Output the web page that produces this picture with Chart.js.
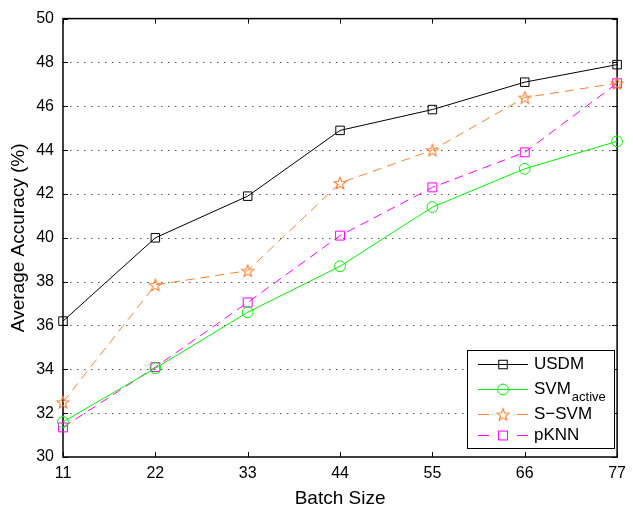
<!DOCTYPE html>
<html>
<head>
<meta charset="utf-8">
<script src="https://cdn.jsdelivr.net/npm/chart.js@4.4.0/dist/chart.umd.min.js"></script>
<style>
  html, body { margin: 0; padding: 0; background: #fff; }
  #wrap { width: 633px; height: 510px; position: relative; }
</style>
</head>
<body>
<div id="wrap"><canvas id="chart"></canvas></div>
<script>
// batch sizes on the x axis
const batchSizes = [11, 22, 33, 44, 55, 66, 77];
const yTicks = [30, 32, 34, 36, 38, 40, 42, 44, 46, 48, 50];

// average accuracy (%) per method
const usdm      = [36.2, 40.0, 41.9, 44.9, 45.85, 47.1, 47.9];
const svmActive = [31.6, 34.05, 36.6, 38.7, 41.4, 43.15, 44.4];
const sSvm      = [32.5, 37.85, 38.5, 42.5, 44.0, 46.4, 47.05];
const pKnn      = [31.35, 34.1, 37.05, 40.1, 42.3, 43.9, 47.05];

const FONT = 'Liberation Sans, Arial, Helvetica, sans-serif';

// open five-point star used as the S-SVM marker
function starImage(color, r) {
    const size = Math.ceil(r * 2 + 3);
    const c = document.createElement('canvas');
    c.width = size;
    c.height = size;
    const g = c.getContext('2d');
    g.strokeStyle = color;
    g.lineWidth = 1.1;
    g.beginPath();
    for (let i = 0; i < 10; i++) {
        const rad = i % 2 ? r * 0.42 : r;
        const a = -Math.PI / 2 + i * Math.PI / 5;
        g.lineTo(size / 2 + rad * Math.cos(a), size / 2 + 0.6 + rad * Math.sin(a));
    }
    g.closePath();
    g.stroke();
    return c;
}

const star = starImage('#ff7f30', 6.4);

function toPoints(values) {
    return values.map((v, i) => ({x: batchSizes[i], y: v}));
}

const series = [
    {label: 'USDM', data: usdm, color: '#000000', style: 'rect', radius: 6, dash: []},
    {label: 'SVM', sub: 'active', data: svmActive, color: '#00f000', style: 'circle', radius: 5.4, dash: []},
    {label: 'S\u2212SVM', data: sSvm, color: '#ff7f30', style: star, radius: 6, dash: [9, 6]},
    {label: 'pKNN', data: pKnn, color: '#ff00ff', style: 'rect', radius: 6.3, dash: [9, 6]},
];

// dotted grid, box frame and inward tick marks
const framePlugin = {
    id: 'frame',
    beforeDatasetsDraw(chart) {
        const {ctx, chartArea: a, scales: {x, y}} = chart;
        ctx.save();
        ctx.strokeStyle = '#555';
        ctx.lineWidth = 1;
        ctx.setLineDash([1.5, 5.5]);
        yTicks.slice(1, -1).forEach(v => {
            const py = Math.round(y.getPixelForValue(v)) + 0.5;
            ctx.beginPath();
            ctx.moveTo(a.left, py);
            ctx.lineTo(a.right, py);
            ctx.stroke();
        });
        ctx.setLineDash([]);
        ctx.strokeStyle = '#000';
        ctx.lineWidth = 1;
        const tl = 5;
        batchSizes.forEach(v => {
            const px = Math.round(x.getPixelForValue(v)) + 0.5;
            ctx.beginPath();
            ctx.moveTo(px, a.bottom); ctx.lineTo(px, a.bottom - tl);
            ctx.moveTo(px, a.top); ctx.lineTo(px, a.top + tl);
            ctx.stroke();
        });
        yTicks.forEach(v => {
            const py = Math.round(y.getPixelForValue(v)) + 0.5;
            ctx.beginPath();
            ctx.moveTo(a.left, py); ctx.lineTo(a.left + tl, py);
            ctx.moveTo(a.right, py); ctx.lineTo(a.right - tl, py);
            ctx.stroke();
        });
        ctx.lineWidth = 1.5;
        ctx.strokeRect(a.left, a.top, a.right - a.left, a.bottom - a.top);
        ctx.restore();
    }
};

function drawMarker(ctx, s, cx, cy) {
    ctx.strokeStyle = s.color;
    ctx.lineWidth = 1;
    if (s.style === 'rect') {
        const h = s.radius * Math.SQRT1_2;
        ctx.strokeRect(cx - h, cy - h, 2 * h, 2 * h);
    } else if (s.style === 'circle') {
        ctx.beginPath();
        ctx.arc(cx, cy, s.radius, 0, Math.PI * 2);
        ctx.stroke();
    } else {
        ctx.drawImage(s.style, cx - s.style.width / 2, cy - s.style.height / 2);
    }
}

// boxed legend in the lower right corner, with the subscript label
const legendPlugin = {
    id: 'boxLegend',
    afterDraw(chart) {
        const ctx = chart.ctx;
        const box = {x: 467, y: 350, w: 147, h: 98};
        const rows = [364, 389, 414, 435];
        ctx.save();
        ctx.fillStyle = '#fff';
        ctx.fillRect(box.x, box.y, box.w, box.h);
        ctx.strokeStyle = '#000';
        ctx.lineWidth = 1;
        ctx.strokeRect(box.x + 0.5, box.y + 0.5, box.w, box.h);
        series.forEach((s, i) => {
            const cy = rows[i] + 0.5;
            ctx.strokeStyle = s.color;
            ctx.lineWidth = 1;
            ctx.beginPath();
            if (s.dash.length) {
                ctx.moveTo(478, cy); ctx.lineTo(489, cy);
                ctx.moveTo(517, cy); ctx.lineTo(528, cy);
            } else {
                ctx.moveTo(478, cy); ctx.lineTo(528, cy);
            }
            ctx.stroke();
            drawMarker(ctx, s, 503, cy);
            ctx.fillStyle = '#000';
            ctx.textBaseline = 'middle';
            ctx.textAlign = 'left';
            ctx.font = '17px ' + FONT;
            ctx.fillText(s.label, 534, cy);
            if (s.sub) {
                const w = ctx.measureText(s.label).width;
                ctx.font = '13px ' + FONT;
                ctx.fillText(s.sub, 534 + w + 1, cy + 8);
            }
        });
        ctx.restore();
    }
};

new Chart(document.getElementById('chart'), {
    type: 'line',
    data: {
        datasets: series.map(s => ({
            label: s.label,
            data: toPoints(s.data),
            borderColor: s.color,
            borderWidth: 1,
            borderDash: s.dash,
            pointStyle: s.style,
            pointRadius: s.radius,
            pointHoverRadius: s.radius,
            pointBorderColor: s.color,
            pointBorderWidth: 1,
            pointBackgroundColor: 'rgba(0,0,0,0)',
            tension: 0,
            clip: false
        }))
    },
    options: {
        responsive: true,
        maintainAspectRatio: false,
        animation: false,
        events: [],
        layout: {padding: {top: 15, right: 10, left: 0, bottom: 0}},
        scales: {
            x: {
                type: 'linear',
                min: 11,
                max: 77,
                afterBuildTicks: s => { s.ticks = batchSizes.map(v => ({value: v})); },
                afterFit: s => { s.height = 53; },
                grid: {display: false, drawTicks: false},
                border: {display: false},
                ticks: {color: '#000', font: {family: FONT, size: 16}, padding: 7, maxRotation: 0},
                title: {display: true, text: 'Batch Size', color: '#000',
                        font: {family: FONT, size: 19}, padding: {top: 0, bottom: 0}}
            },
            y: {
                min: 30,
                max: 50,
                afterBuildTicks: s => { s.ticks = yTicks.map(v => ({value: v})); },
                afterFit: s => { s.width = 63; },
                grid: {display: false, drawTicks: false},
                border: {display: false},
                ticks: {color: '#000', font: {family: FONT, size: 16}, padding: 9},
                title: {display: true, text: 'Average Accuracy (%)', color: '#000',
                        font: {family: FONT, size: 19}, padding: {top: 7, bottom: 0}}
            }
        },
        plugins: {
            legend: {display: false},
            tooltip: {enabled: false}
        }
    },
    plugins: [framePlugin, legendPlugin]
});
</script>
</body>
</html>
